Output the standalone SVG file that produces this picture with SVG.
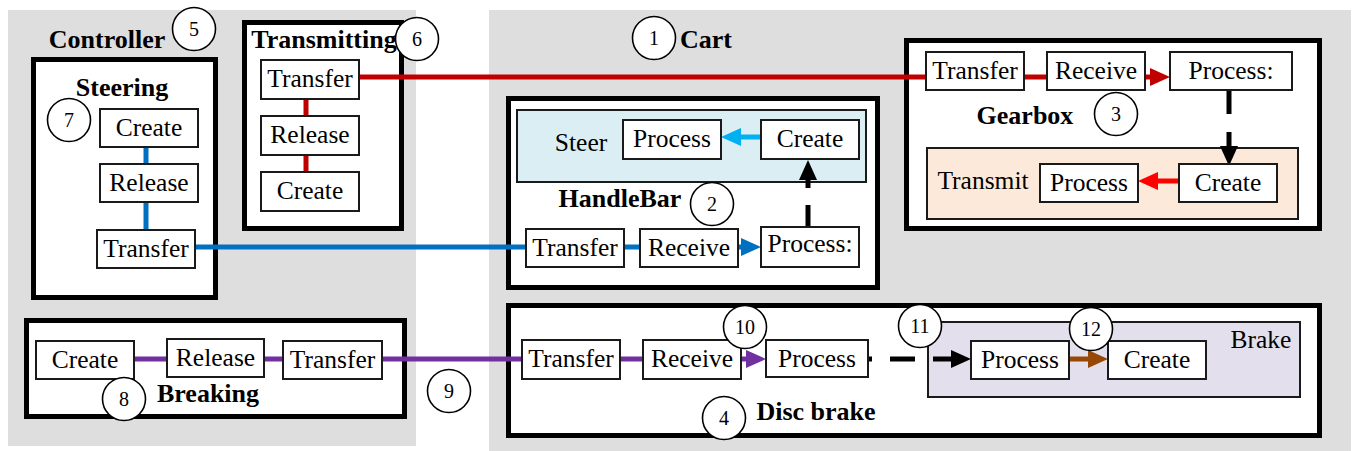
<svg xmlns="http://www.w3.org/2000/svg" width="1353" height="451" viewBox="0 0 1353 451">
<style>
.bg{fill:#DEDEDE}
.outer{fill:#fff;stroke:#000;stroke-width:5}
.inner{stroke:#1a1a1a;stroke-width:2}
.box{fill:#fff;stroke:#1a1a1a;stroke-width:2}
.t{font-family:"Liberation Serif","Times New Roman",serif;font-size:25.5px;fill:#000;text-anchor:middle}
.b{font-family:"Liberation Serif","Times New Roman",serif;font-size:26px;font-weight:bold;fill:#000;text-anchor:middle}
.num{font-family:"Liberation Serif","Times New Roman",serif;font-size:20px;fill:#000;text-anchor:middle}
.circ{fill:#fff;stroke:#000;stroke-width:1.6}
.c{fill:none;stroke-width:5}
.red{stroke:#C00000}.bred{stroke:#FF0000}.blue{stroke:#0070C0}.lblue{stroke:#00B0F0}.pur{stroke:#7030A0}.brn{stroke:#974806}.blk{stroke:#000}
</style>
<defs>
<marker id="aBlue" markerUnits="userSpaceOnUse" viewBox="0 0 20 18" markerWidth="20" markerHeight="18" refX="0" refY="9" orient="auto"><path d="M0,0 L20,9 L0,18 z" fill="#0070C0"/></marker>
<marker id="aLBlue" markerUnits="userSpaceOnUse" viewBox="0 0 20 18" markerWidth="20" markerHeight="18" refX="0" refY="9" orient="auto"><path d="M0,0 L20,9 L0,18 z" fill="#00B0F0"/></marker>
<marker id="aRed" markerUnits="userSpaceOnUse" viewBox="0 0 20 18" markerWidth="20" markerHeight="18" refX="0" refY="9" orient="auto"><path d="M0,0 L20,9 L0,18 z" fill="#C00000"/></marker>
<marker id="aBRed" markerUnits="userSpaceOnUse" viewBox="0 0 20 18" markerWidth="20" markerHeight="18" refX="0" refY="9" orient="auto"><path d="M0,0 L20,9 L0,18 z" fill="#FF0000"/></marker>
<marker id="aPur" markerUnits="userSpaceOnUse" viewBox="0 0 20 18" markerWidth="20" markerHeight="18" refX="0" refY="9" orient="auto"><path d="M0,0 L20,9 L0,18 z" fill="#7030A0"/></marker>
<marker id="aBrn" markerUnits="userSpaceOnUse" viewBox="0 0 20 18" markerWidth="20" markerHeight="18" refX="0" refY="9" orient="auto"><path d="M0,0 L20,9 L0,18 z" fill="#974806"/></marker>
<marker id="aBlk" markerUnits="userSpaceOnUse" viewBox="0 0 20 18" markerWidth="20" markerHeight="18" refX="0" refY="9" orient="auto"><path d="M0,0 L20,9 L0,18 z" fill="#000"/></marker>
</defs>
<rect width="1353" height="451" fill="#fff"/>
<g id="controller">
<rect class="bg" x="8" y="10" width="408" height="436"/>
<text class="b" x="107" y="48">Controller</text>
</g>
<g id="cart">
<rect class="bg" x="489" y="10" width="862" height="441"/>
<text class="b" x="706" y="48">Cart</text>
</g>
<g id="steering">
<rect class="outer" x="33.5" y="59.5" width="182" height="238"/>
<text class="b" x="122" y="96">Steering</text>
</g>
<g id="transmitting">
<rect class="outer" x="244.5" y="22.5" width="157" height="206"/>
<text class="b" x="324" y="48">Transmitting</text>
</g>
<g id="handlebar">
<rect class="outer" x="508.5" y="98.5" width="369" height="189"/>
<rect class="inner" fill="#DAEEF3" x="517" y="110" width="349" height="72"/>
<text class="t" x="581" y="151">Steer</text>
<text class="b" x="620" y="207">HandleBar</text>
</g>
<g id="gearbox">
<rect class="outer" x="906.5" y="40.5" width="413" height="188"/>
<rect class="inner" fill="#FDE9D9" x="927" y="148" width="371" height="71"/>
<text class="t" x="983" y="189">Transmit</text>
<text class="b" x="1025" y="124">Gearbox</text>
</g>
<g id="breaking">
<rect class="outer" x="26.5" y="320.5" width="378" height="96"/>
<text class="b" x="208" y="402">Breaking</text>
</g>
<g id="discbrake">
<rect class="outer" x="508.5" y="305.5" width="811" height="130"/>
<rect class="inner" fill="#E4DFEC" x="928" y="322" width="372" height="75"/>
<text class="t" x="1261" y="348">Brake</text>
<text class="b" x="816" y="420">Disc brake</text>
</g>
<g id="connectors">
<path class="c blue" d="M146,147 V164 M146,202 V230 M195,247 H526 M624,247 H640"/>
<path class="c blue" d="M738,247 H741" marker-end="url(#aBlue)"/>
<path class="c lblue" d="M761,137 H741" marker-end="url(#aLBlue)"/>
<path class="c blk" d="M808,227 V180" stroke-dasharray="22 17" marker-end="url(#aBlk)"/>
<path class="c red" d="M306,99 V116 M306,155 V172 M359,77 H926 M1024,77 H1047"/>
<path class="c red" d="M1145,77 H1150" marker-end="url(#aRed)"/>
<path class="c blk" d="M1229,90 V146" stroke-dasharray="24 18" marker-end="url(#aBlk)"/>
<path class="c bred" d="M1179,181 H1158" marker-end="url(#aBRed)"/>
<path class="c pur" d="M134,359 H167 M264,359 H283 M382,359 H522 M620,359 H643"/>
<path class="c pur" d="M741,359 H746" marker-end="url(#aPur)"/>
<path class="c blk" d="M868,359 H951" stroke-dasharray="25 18" stroke-dashoffset="21" marker-end="url(#aBlk)"/>
<path class="c brn" d="M1069,359 H1088" marker-end="url(#aBrn)"/>
</g>
<g id="s_create"><rect class="box" x="100" y="109" width="98" height="38"/><text class="t" x="149" y="136">Create</text></g>
<g id="s_release"><rect class="box" x="100" y="164" width="98" height="38"/><text class="t" x="149" y="191">Release</text></g>
<g id="s_transfer"><rect class="box" x="97" y="230" width="98" height="38"/><text class="t" x="146" y="257">Transfer</text></g>
<g id="t_transfer"><rect class="box" x="261" y="60" width="98" height="39"/><text class="t" x="310" y="87">Transfer</text></g>
<g id="t_release"><rect class="box" x="261" y="116" width="98" height="39"/><text class="t" x="310" y="143">Release</text></g>
<g id="t_create"><rect class="box" x="261" y="172" width="98" height="39"/><text class="t" x="310" y="199">Create</text></g>
<g id="h_process"><rect class="box" x="623" y="120" width="98" height="39"/><text class="t" x="672" y="147">Process</text></g>
<g id="h_create"><rect class="box" x="761" y="120" width="98" height="39"/><text class="t" x="810" y="147">Create</text></g>
<g id="h_transfer"><rect class="box" x="526" y="229" width="98" height="38"/><text class="t" x="575" y="256">Transfer</text></g>
<g id="h_receive"><rect class="box" x="640" y="229" width="98" height="38"/><text class="t" x="689" y="256">Receive</text></g>
<g id="h_processc"><rect class="box" x="761" y="227" width="98" height="40"/><text class="t" x="810" y="252">Process:</text></g>
<g id="g_transfer"><rect class="box" x="926" y="52" width="98" height="38"/><text class="t" x="975" y="79">Transfer</text></g>
<g id="g_receive"><rect class="box" x="1047" y="52" width="98" height="38"/><text class="t" x="1096" y="79">Receive</text></g>
<g id="g_processc"><rect class="box" x="1170" y="52" width="122" height="38"/><text class="t" x="1231" y="79">Process:</text></g>
<g id="g_process"><rect class="box" x="1040" y="164" width="98" height="38"/><text class="t" x="1089" y="191">Process</text></g>
<g id="g_create"><rect class="box" x="1179" y="164" width="98" height="38"/><text class="t" x="1228" y="191">Create</text></g>
<g id="b_create"><rect class="box" x="36" y="341" width="98" height="38"/><text class="t" x="85" y="368">Create</text></g>
<g id="b_release"><rect class="box" x="167" y="339" width="97" height="38"/><text class="t" x="215.5" y="366">Release</text></g>
<g id="b_transfer"><rect class="box" x="283" y="341" width="99" height="38"/><text class="t" x="332.5" y="368">Transfer</text></g>
<g id="d_transfer"><rect class="box" x="522" y="340" width="98" height="39"/><text class="t" x="571" y="367">Transfer</text></g>
<g id="d_receive"><rect class="box" x="643" y="340" width="98" height="39"/><text class="t" x="692" y="367">Receive</text></g>
<g id="d_process"><rect class="box" x="766" y="340" width="102" height="37"/><text class="t" x="817" y="367">Process</text></g>
<g id="k_process"><rect class="box" x="971" y="341" width="98" height="38"/><text class="t" x="1020" y="368">Process</text></g>
<g id="k_create"><rect class="box" x="1108" y="341" width="98" height="38"/><text class="t" x="1157" y="368">Create</text></g>
<g id="n1"><circle class="circ" cx="654" cy="38" r="21.5"/><text class="num" x="654" y="45">1</text></g>
<g id="n2"><circle class="circ" cx="712" cy="204" r="21.5"/><text class="num" x="712" y="211">2</text></g>
<g id="n3"><circle class="circ" cx="1116" cy="114" r="21.5"/><text class="num" x="1116" y="121">3</text></g>
<g id="n4"><circle class="circ" cx="724" cy="418" r="21.5"/><text class="num" x="724" y="425">4</text></g>
<g id="n5"><circle class="circ" cx="194" cy="29" r="21.5"/><text class="num" x="194" y="36">5</text></g>
<g id="n6"><circle class="circ" cx="417" cy="39" r="21.5"/><text class="num" x="417" y="46">6</text></g>
<g id="n7"><circle class="circ" cx="69" cy="120" r="21.5"/><text class="num" x="69" y="127">7</text></g>
<g id="n8"><circle class="circ" cx="124" cy="399" r="21.5"/><text class="num" x="124" y="406">8</text></g>
<g id="n9"><circle class="circ" cx="449" cy="391" r="21.5"/><text class="num" x="449" y="398">9</text></g>
<g id="n10"><circle class="circ" cx="745" cy="327" r="21.5"/><text class="num" x="745" y="334">10</text></g>
<g id="n11"><circle class="circ" cx="920" cy="326" r="21.5"/><text class="num" x="920" y="333">11</text></g>
<g id="n12"><circle class="circ" cx="1091" cy="329" r="21.5"/><text class="num" x="1091" y="336">12</text></g>
</svg>
